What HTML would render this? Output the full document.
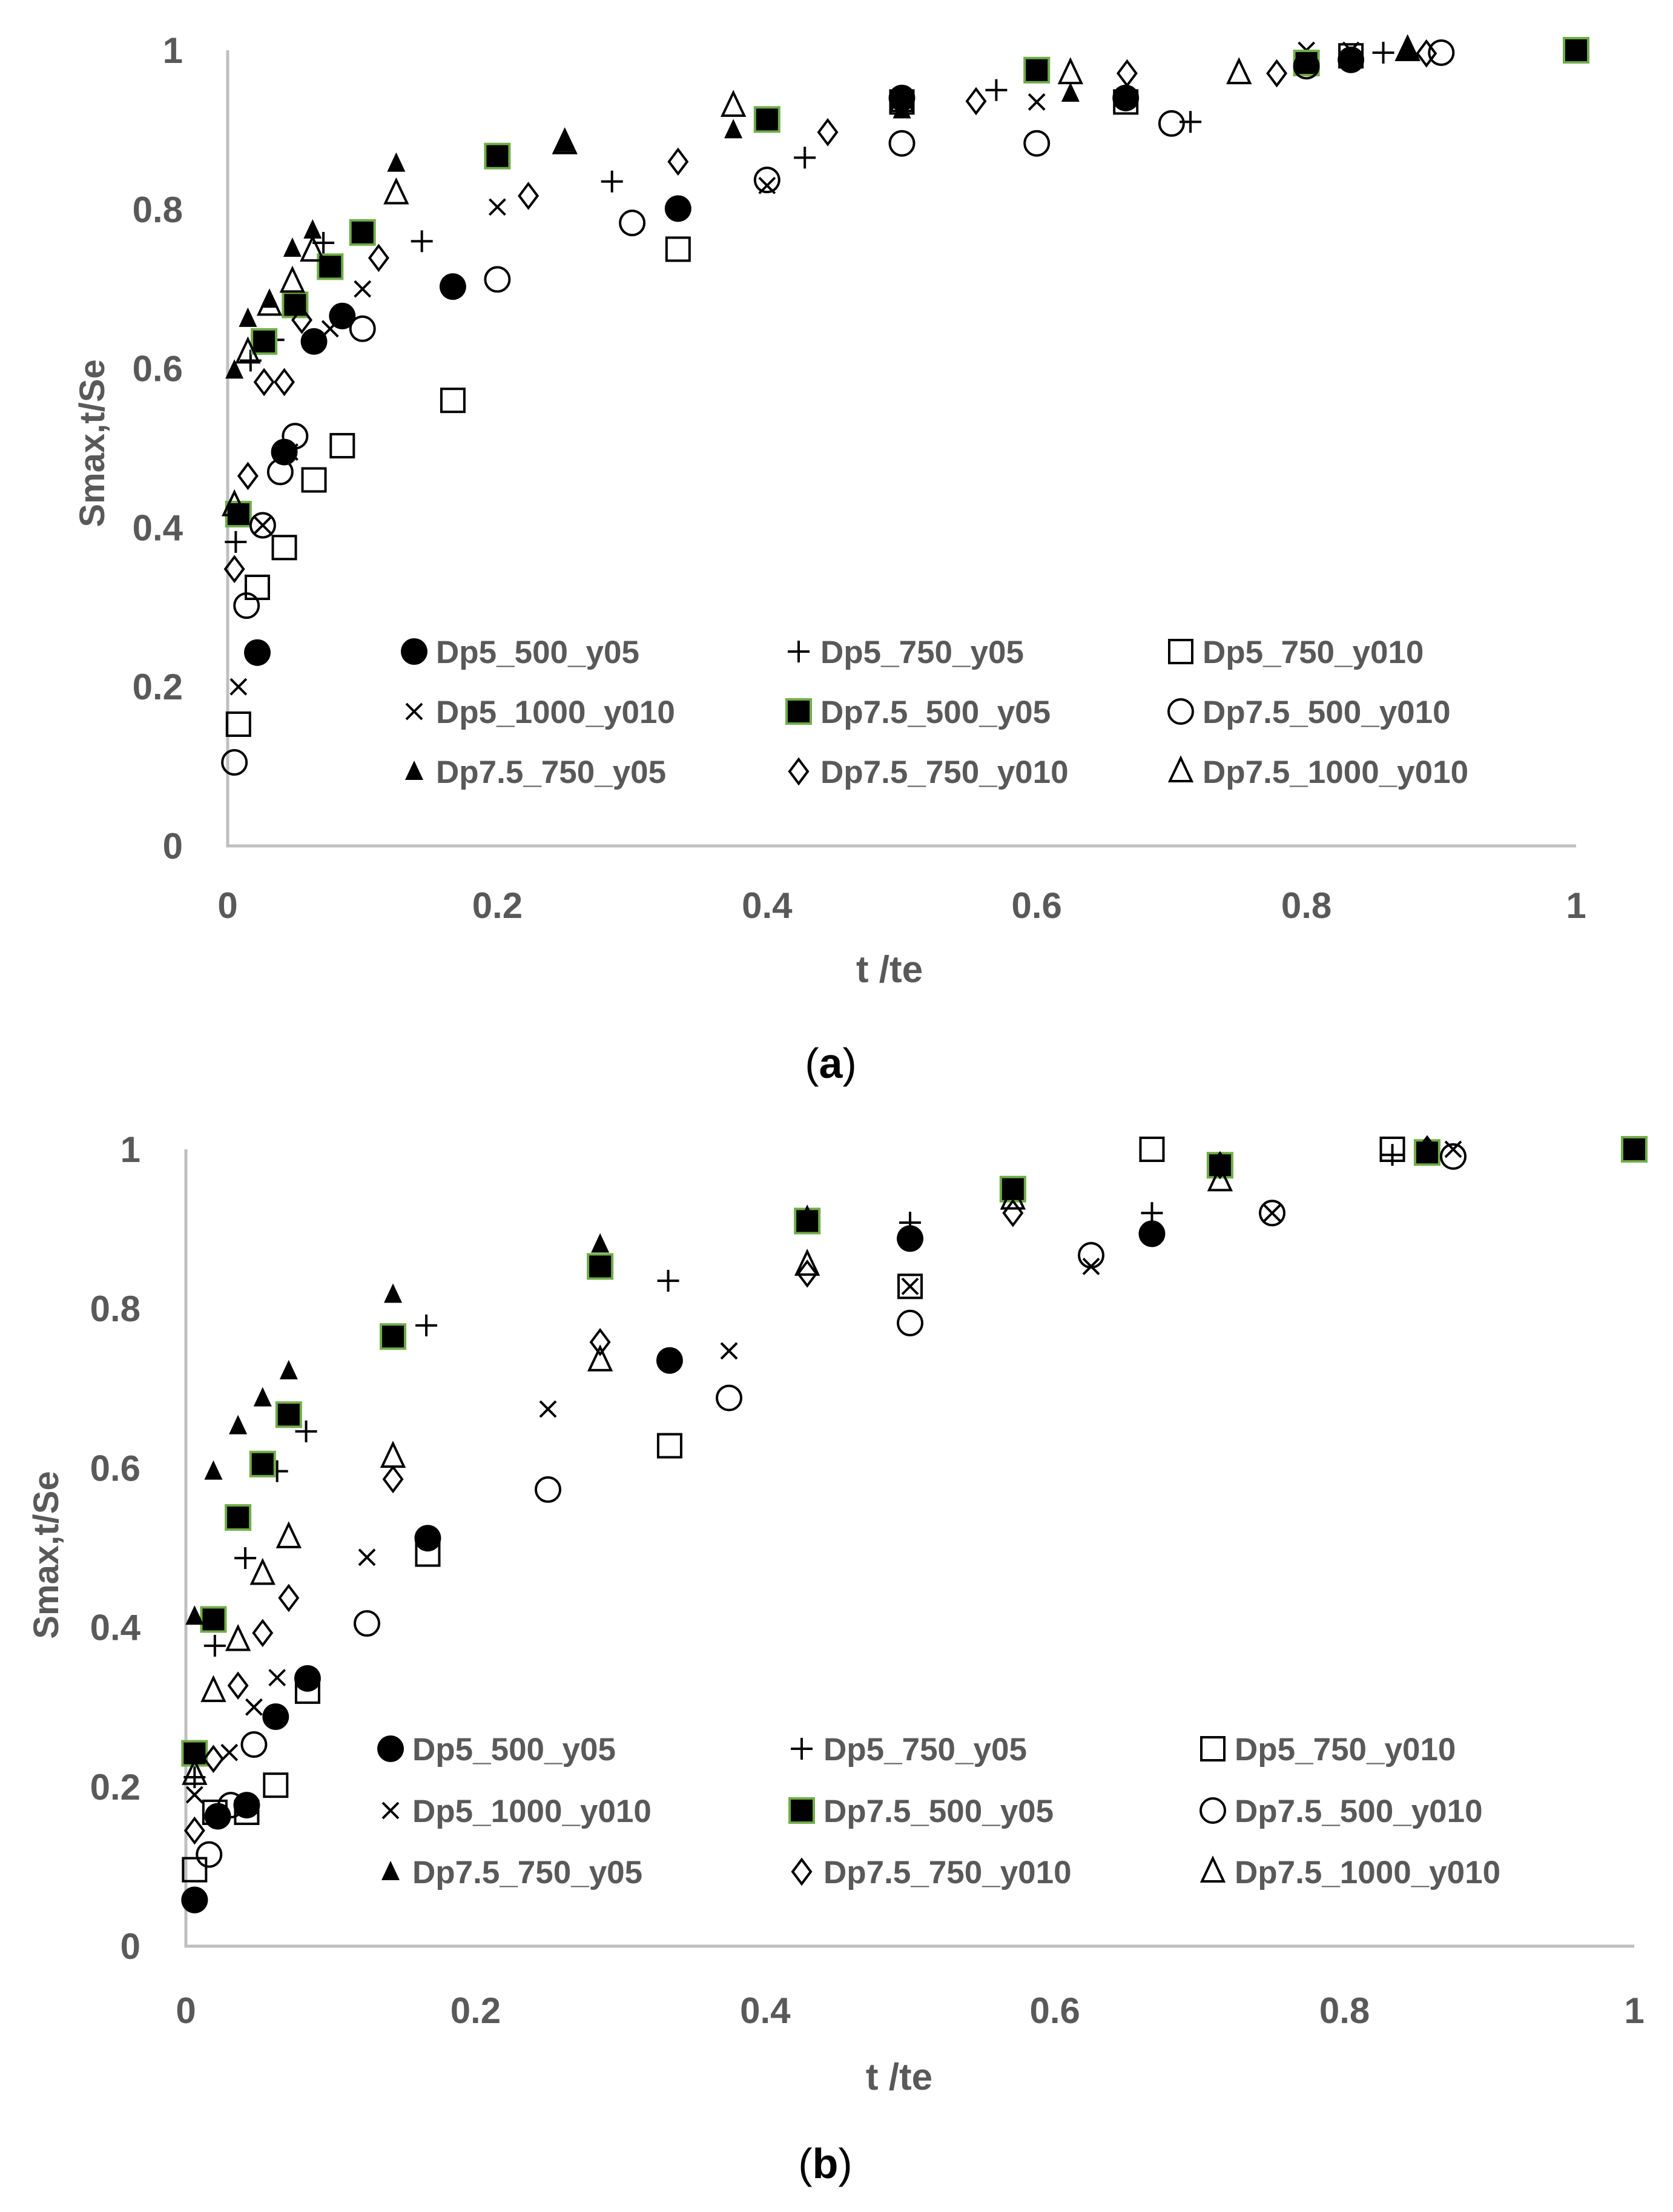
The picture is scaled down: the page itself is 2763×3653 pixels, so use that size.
<!DOCTYPE html>
<html><head><meta charset="utf-8"><style>
body{margin:0;background:#fff}
svg{display:block}
text{font-family:"Liberation Sans",sans-serif}
</style></head><body>
<svg id="fig" width="2763" height="3653" viewBox="0 0 2763 3653" xmlns="http://www.w3.org/2000/svg"></svg>
<script>
const seriesNames=["Dp5_500_y05","Dp5_750_y05","Dp5_750_y010","Dp5_1000_y010","Dp7.5_500_y05","Dp7.5_500_y010","Dp7.5_750_y05","Dp7.5_750_y010","Dp7.5_1000_y010"];
const seriesMarkers=["fcircle","plus","osquare","cross","gsquare","ocircle","ftri","diamond","otri"];
const xTicks=[0,0.2,0.4,0.6,0.8,1];
const yTicks=[0,0.2,0.4,0.6,0.8,1];
// Chart (a)
const aX0=[0.022,0.042,0.064,0.085,0.167,0.334,0.5,0.666,0.833,1];
const aY0=[0.243,0.495,0.634,0.666,0.703,0.801,0.94,0.94,0.988,1];
const aX1=[0.006,0.017,0.034,0.071,0.144,0.285,0.428,0.57,0.714,0.857];
const aY1=[0.382,0.61,0.636,0.758,0.76,0.835,0.865,0.95,0.91,0.997];
const aX2=[0.008,0.022,0.042,0.064,0.085,0.167,0.334,0.5,0.666,0.833,1];
const aY2=[0.153,0.325,0.375,0.46,0.503,0.56,0.75,0.935,0.935,0.993,1];
const aX3=[0.008,0.026,0.046,0.076,0.1,0.2,0.4,0.6,0.8,0.833];
const aY3=[0.2,0.403,0.495,0.65,0.7,0.803,0.83,0.935,1.0,1.0];
const aX4=[0.008,0.027,0.05,0.076,0.1,0.2,0.4,0.6,0.8,1];
const aY4=[0.417,0.634,0.68,0.728,0.771,0.867,0.913,0.975,0.984,1];
const aX5=[0.005,0.014,0.026,0.039,0.05,0.1,0.2,0.3,0.4,0.5,0.6,0.7,0.8,0.9];
const aY5=[0.105,0.302,0.403,0.47,0.515,0.65,0.712,0.783,0.837,0.883,0.883,0.908,0.98,0.997];
const aX6=[0.005,0.015,0.031,0.048,0.063,0.125,0.25,0.375,0.5,0.625,0.875];
const aY6=[0.598,0.663,0.687,0.751,0.774,0.858,0.883,0.9,0.925,0.946,1.0];
const aX7=[0.005,0.015,0.027,0.042,0.055,0.112,0.223,0.334,0.445,0.555,0.667,0.778,0.889];
const aY7=[0.348,0.465,0.583,0.583,0.661,0.739,0.817,0.86,0.897,0.936,0.971,0.971,0.996];
const aX8=[0.005,0.015,0.031,0.048,0.063,0.125,0.25,0.375,0.5,0.625,0.75,0.875];
const aY8=[0.428,0.62,0.68,0.709,0.748,0.82,0.883,0.93,0.936,0.971,0.971,1.0];
// Chart (b)
const bX0=[0.006,0.022,0.042,0.062,0.084,0.167,0.334,0.5,0.667,1];
const bY0=[0.058,0.163,0.177,0.288,0.336,0.512,0.735,0.888,0.894,1];
const bX1=[0.006,0.02,0.041,0.063,0.083,0.166,0.333,0.5,0.667,0.833];
const bY1=[0.212,0.377,0.487,0.596,0.646,0.779,0.835,0.908,0.92,0.993];
const bX2=[0.006,0.02,0.042,0.062,0.084,0.167,0.334,0.5,0.667,0.833];
const bY2=[0.096,0.168,0.168,0.202,0.32,0.492,0.628,0.828,1.0,1.0];
const bX3=[0.006,0.03,0.047,0.063,0.125,0.25,0.375,0.5,0.625,0.75,0.875];
const bY3=[0.19,0.243,0.3,0.337,0.488,0.674,0.747,0.828,0.853,0.92,1.0];
const bX4=[0.006,0.019,0.036,0.053,0.071,0.143,0.286,0.429,0.571,0.714,0.857,1];
const bY4=[0.242,0.41,0.538,0.605,0.667,0.765,0.853,0.91,0.95,0.98,0.996,1];
const bX5=[0.006,0.016,0.031,0.047,0.125,0.25,0.375,0.5,0.625,0.75,0.875];
const bY5=[0.058,0.115,0.177,0.253,0.405,0.573,0.688,0.782,0.867,0.92,0.991];
const bX6=[0.006,0.019,0.036,0.053,0.071,0.143,0.286,0.429,0.571,0.714,0.857,1];
const bY6=[0.414,0.596,0.653,0.688,0.722,0.818,0.881,0.917,0.95,0.984,1.0,1];
const bX7=[0.006,0.019,0.036,0.053,0.071,0.143,0.286,0.429,0.571,0.714,0.857];
const bY7=[0.145,0.235,0.327,0.393,0.437,0.586,0.758,0.844,0.92,0.98,1.0];
const bX8=[0.006,0.019,0.036,0.053,0.071,0.143,0.286,0.429,0.571,0.714];
const bY8=[0.216,0.32,0.384,0.467,0.513,0.614,0.735,0.855,0.938,0.961];

const NS="http://www.w3.org/2000/svg";
const svg=document.getElementById('fig');
function mk(tag,attrs,parent){const e=document.createElementNS(NS,tag);for(const k in attrs)e.setAttribute(k,attrs[k]);parent.appendChild(e);return e;}
function marker(type,cx,cy,g){
  const sw=4;let e;
  if(type==="fcircle"){e=mk('circle',{cx,cy,r:22,fill:'#000'},g);}
  else if(type==="ocircle"){e=mk('circle',{cx,cy,r:20,fill:'none',stroke:'#000','stroke-width':sw},g);}
  else if(type==="osquare"){e=mk('rect',{x:cx-19,y:cy-19,width:38,height:38,fill:'none',stroke:'#000','stroke-width':sw},g);}
  else if(type==="gsquare"){e=mk('rect',{x:cx-20,y:cy-20,width:40,height:40,fill:'#000',stroke:'#70ad47','stroke-width':4},g);}
  else if(type==="plus"){e=mk('path',{d:`M${cx-18} ${cy}H${cx+18}M${cx} ${cy-18}V${cy+18}`,stroke:'#000','stroke-width':sw,fill:'none'},g);}
  else if(type==="cross"){e=mk('path',{d:`M${cx-13} ${cy-13}L${cx+13} ${cy+13}M${cx+13} ${cy-13}L${cx-13} ${cy+13}`,stroke:'#000','stroke-width':sw,fill:'none'},g);}
  else if(type==="ftri"){e=mk('path',{d:`M${cx} ${cy-18}L${cx+15} ${cy+14}L${cx-15} ${cy+14}Z`,fill:'#000'},g);}
  else if(type==="otri"){e=mk('path',{d:`M${cx} ${cy-22}L${cx+18} ${cy+16}L${cx-18} ${cy+16}Z`,fill:'none',stroke:'#000','stroke-width':sw},g);}
  else if(type==="diamond"){e=mk('path',{d:`M${cx} ${cy-20}L${cx+15} ${cy}L${cx} ${cy+20}L${cx-15} ${cy}Z`,fill:'none',stroke:'#000','stroke-width':sw},g);}
  return e;
}
function chart(cfg){
  const g=mk('g',{},svg);
  
  
  const sx=v=>cfg.x0+(cfg.x1-cfg.x0)*v, sy=v=>cfg.y0-(cfg.y0-cfg.y1)*v;
  const ax=mk('path',{d:`M${cfg.x0} ${sy(1)}V${cfg.y0}H${cfg.x1}`,stroke:'#bfbfbf','stroke-width':5,fill:'none'},g);
  
  
  yTicks.forEach(v=>{const t=mk('text',{x:cfg.ylx,y:sy(v)+21,'text-anchor':'end','font-size':60,'font-weight':'bold',fill:'#595959'},g);t.textContent=String(v);
    
    });
  xTicks.forEach(v=>{const t=mk('text',{x:sx(v),y:cfg.xly,'text-anchor':'middle','font-size':60,'font-weight':'bold',fill:'#595959'},g);t.textContent=String(v);
    
    });
  const xt=mk('text',{x:cfg.xtx,y:cfg.xty,'text-anchor':'middle','font-size':62,'font-weight':'bold',fill:'#595959'},g);xt.textContent='t /te';
  
  
  const yt=mk('text',{x:0,y:0,transform:`translate(${cfg.ytx},${cfg.yty}) rotate(-90)`,'text-anchor':'middle','font-size':58,'font-weight':'bold',fill:'#595959'},g);yt.textContent='Smax,t/Se';
  
  
  cfg.xs.forEach((xs,i)=>{
    const sg=mk('g',{},g);
    
    
    xs.forEach((xv,j)=>{const m=marker(seriesMarkers[i],sx(xv),sy(cfg.ys[i][j]),sg);
      
      });
  });
  seriesNames.forEach((n,i)=>{
    const col=i%3,row=Math.floor(i/3);
    const lg=mk('g',{},g);
    
    
    const mx=cfg.legMx[col],my=cfg.legY[row];
    marker(seriesMarkers[i],mx,my,lg);
    const t=mk('text',{x:mx+cfg.legDx,y:my+19,'font-size':53,'font-weight':'bold',fill:'#595959'},lg);t.textContent=n;
  });
  const cap=mk('text',{x:cfg.capx,y:cfg.capy,'text-anchor':'middle','font-size':70,fill:'#000','font-family':'Liberation Serif,serif'},g);
  cap.innerHTML='(<tspan font-weight="bold">'+cfg.cap+'</tspan>)';
  
  
}
chart({name:'chart-a',x0:376,x1:2603,y0:1397,y1:83,ylx:302,xly:1516,xtx:1469,xty:1622,ytx:172,yty:732,
  xs:[aX0,aX1,aX2,aX3,aX4,aX5,aX6,aX7,aX8],ys:[aY0,aY1,aY2,aY3,aY4,aY5,aY6,aY7,aY8],
  legMx:[684,1319,1950],legY:[1076,1175,1274],legDx:36,cap:'a',capx:1372,capy:1780});
chart({name:'chart-b',x0:307,x1:2699,y0:3214,y1:1898,ylx:232,xly:3341,xtx:1485,xty:3451,ytx:96,yty:2568,
  xs:[bX0,bX1,bX2,bX3,bX4,bX5,bX6,bX7,bX8],ys:[bY0,bY1,bY2,bY3,bY4,bY5,bY6,bY7,bY8],
  legMx:[645,1324,2003],legY:[2888,2990,3091],legDx:36,cap:'b',capx:1363,capy:3597});
</script>
</body></html>
